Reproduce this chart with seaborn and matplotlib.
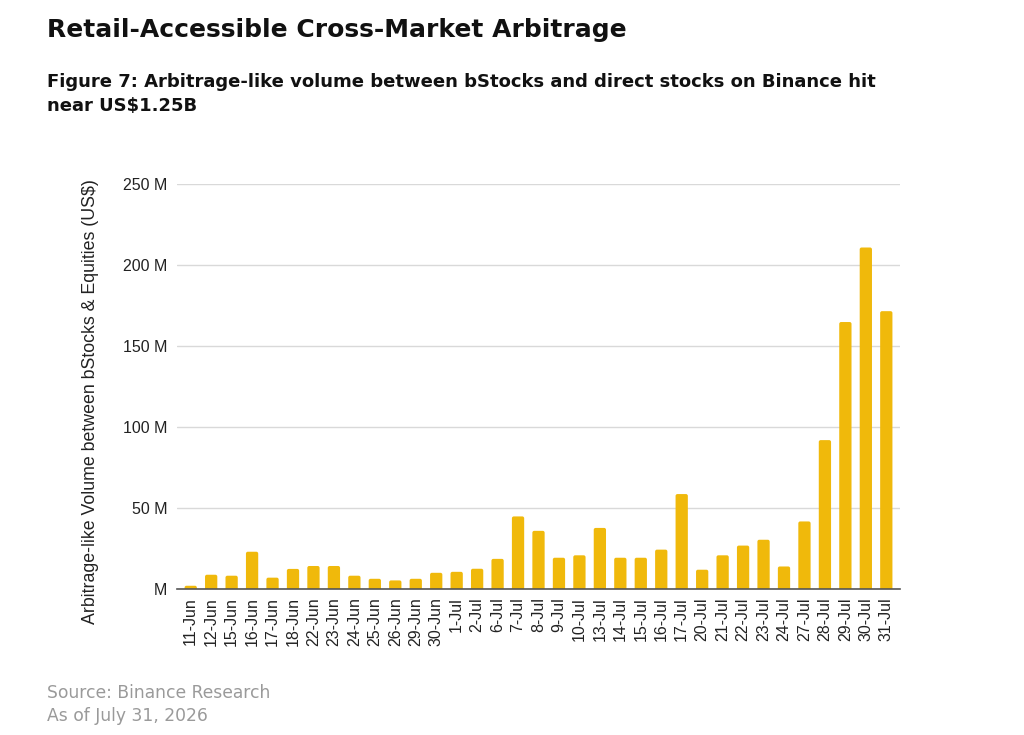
import pandas as pd
import matplotlib.pyplot as plt
import seaborn as sns
from matplotlib.patches import FancyBboxPatch

# ======================================================
# DATA (US$ millions)
# ======================================================
dates = [
    "11-Jun", "12-Jun", "15-Jun", "16-Jun", "17-Jun", "18-Jun", "22-Jun",
    "23-Jun", "24-Jun", "25-Jun", "26-Jun", "29-Jun", "30-Jun", "1-Jul",
    "2-Jul", "6-Jul", "7-Jul", "8-Jul", "9-Jul", "10-Jul", "13-Jul",
    "14-Jul", "15-Jul", "16-Jul", "17-Jul", "20-Jul", "21-Jul", "22-Jul",
    "23-Jul", "24-Jul", "27-Jul", "28-Jul", "29-Jul", "30-Jul", "31-Jul",
]
volume_m = [
    2.0, 8.8, 8.2, 23.0, 7.0, 12.4, 14.2,
    14.2, 8.2, 6.3, 5.3, 6.3, 10.0, 10.6,
    12.5, 18.6, 44.8, 35.9, 19.3, 20.8, 37.7,
    19.3, 19.3, 24.3, 58.6, 11.9, 20.8, 26.8,
    30.4, 13.9, 41.7, 91.9, 164.8, 210.8, 171.5,
]
y_ticks = [0, 50, 100, 150, 200, 250]
y_tick_labels = ["M", "50 M", "100 M", "150 M", "200 M", "250 M"]

title = "Retail-Accessible Cross-Market Arbitrage"
subtitle = ("Figure 7: Arbitrage-like volume between bStocks and direct stocks on Binance hit\n"
            "near US$1.25B")
y_label = "Arbitrage-like Volume between bStocks & Equities (US$)"
source = "Source: Binance Research\nAs of July 31, 2026"

BAR_COLOR = "#F0B90B"
AXIS_FONT = "Liberation Sans"

# ======================================================
# PLOT
# ======================================================
sns.set_theme(style="white")
plt.rcParams['font.family'] = ['DejaVu Sans']

df = pd.DataFrame({"date": dates, "volume": volume_m})

fig = plt.figure(figsize=(10.24, 7.35), dpi=100)
ax = fig.add_axes([177 / 1024, 1 - 589 / 735, (900 - 177) / 1024, (589 - 184) / 735])

sns.barplot(data=df, x="date", y="volume", color=BAR_COLOR, width=0.6,
            saturation=1, ax=ax, zorder=3)

ax.set_ylim(0, 250)
ax.set_xlim(-0.67, len(dates) - 0.33)

# slightly rounded bar tops, like the original; bottoms pushed below zero (clipped)
r_x = 0.09
aspect = 13.0
for bar in list(ax.patches):
    x, w, h = bar.get_x(), bar.get_width(), bar.get_height()
    rounded = FancyBboxPatch(
        (x, -r_x * aspect), w, h + r_x * aspect,
        boxstyle=f"round,pad=0,rounding_size={r_x}",
        mutation_aspect=aspect, facecolor=BAR_COLOR, edgecolor="none", zorder=3,
    )
    bar.remove()
    ax.add_patch(rounded)

ax.set_yticks(y_ticks)
ax.set_yticklabels(y_tick_labels, fontsize=11.5, color="#222222", family=AXIS_FONT)
ax.tick_params(axis="x", labelrotation=90, labelsize=11.5, colors="#222222", length=0, pad=6)
ax.tick_params(axis="y", length=0, pad=7)
for lbl in ax.get_xticklabels():
    lbl.set_family(AXIS_FONT)

ax.yaxis.grid(True, color="#d9d9d9", linewidth=1.0, zorder=0)
ax.set_axisbelow(True)
for side in ["top", "right", "left"]:
    ax.spines[side].set_visible(False)
ax.spines["bottom"].set_color("#555555")
ax.spines["bottom"].set_linewidth(1.2)
ax.spines["bottom"].set_zorder(4)

ax.set_xlabel("")
ax.set_ylabel(y_label, fontsize=12.8, color="#222222", family=AXIS_FONT)
ax.yaxis.set_label_coords(-0.108, 0.463)

fig.text(47 / 1024, 1 - 30 / 735, title, fontsize=18, fontweight="bold",
         color="#111111", va="center", ha="left")
fig.text(47 / 1024, 1 - 73 / 735, subtitle, fontsize=13, fontweight="bold",
         color="#111111", va="top", ha="left", linespacing=1.4)
fig.text(47 / 1024, 1 - 684 / 735, source, fontsize=12.3, color="#9a9a9a",
         va="top", ha="left", linespacing=1.35)

plt.savefig("out.png", dpi=100)
plt.close()
